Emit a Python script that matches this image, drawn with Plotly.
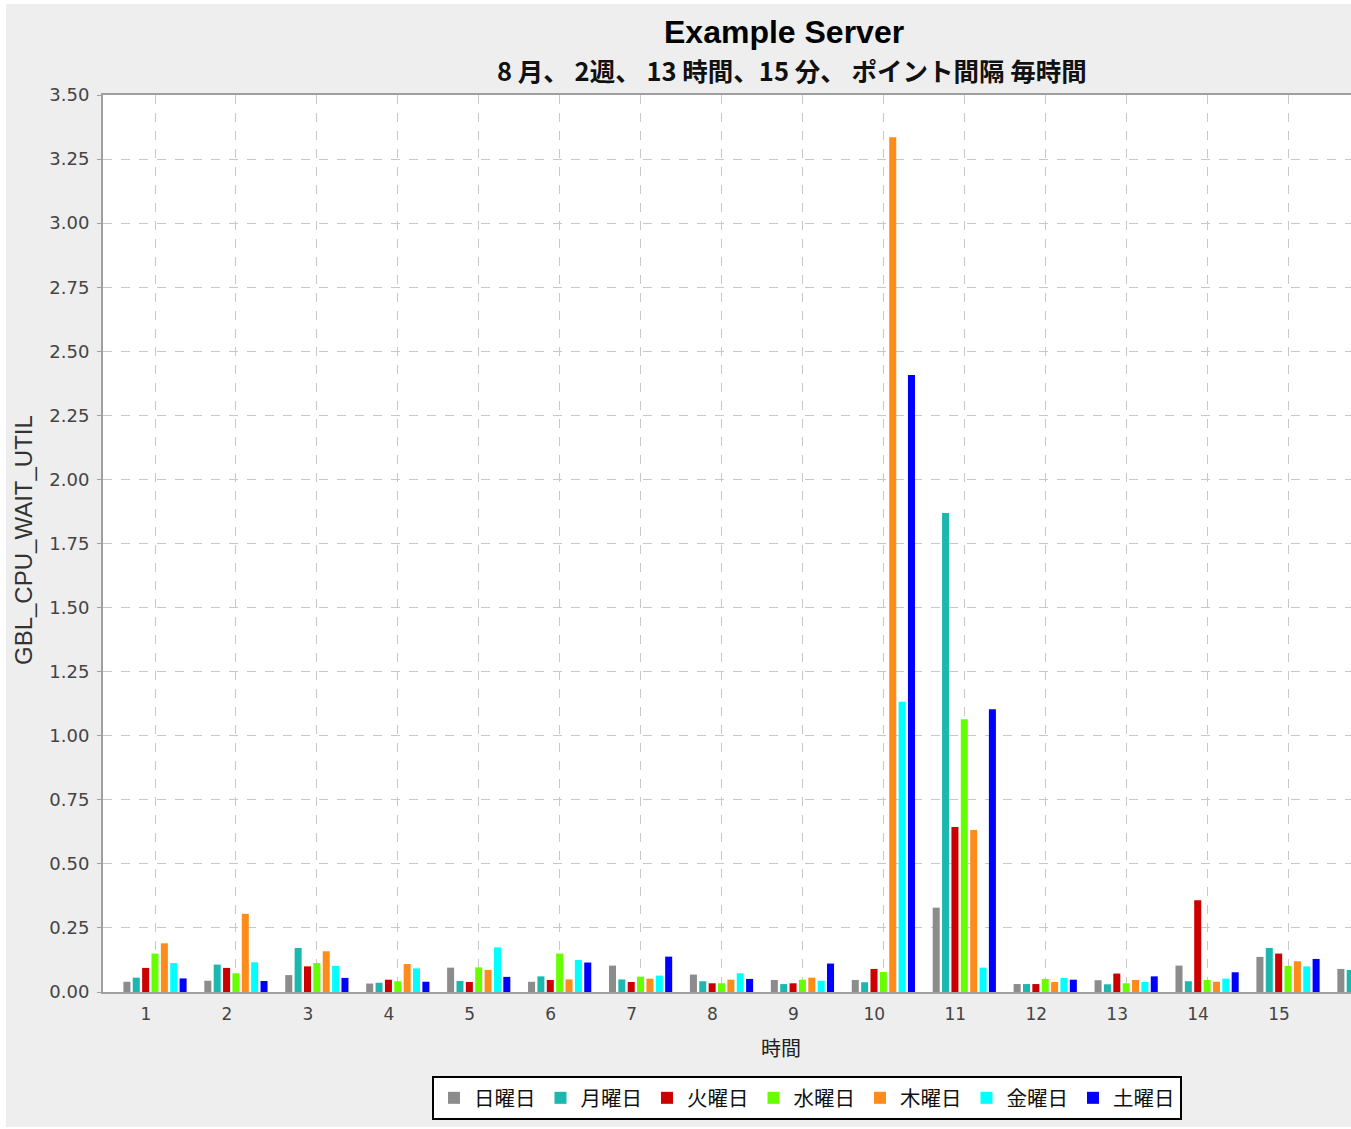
import plotly.graph_objects as go

hours = list(range(1, 17))
tick_labels = [str(h) for h in range(1, 16)]

series_names = ["日曜日", "月曜日", "火曜日", "水曜日", "木曜日", "金曜日", "土曜日"]
series_colors = ["#8C8C8C", "#1CB8B0", "#CC0000", "#66FF00", "#FF8C1A", "#00FFFF", "#0000FF"]

sun = [0.040, 0.044, 0.066, 0.033, 0.095, 0.040, 0.103, 0.068, 0.047, 0.047, 0.329, 0.031, 0.046, 0.103, 0.137, 0.090]
mon = [0.056, 0.107, 0.172, 0.036, 0.043, 0.061, 0.049, 0.042, 0.031, 0.038, 1.869, 0.031, 0.030, 0.042, 0.172, 0.086]
tue = [0.094, 0.094, 0.100, 0.048, 0.039, 0.047, 0.039, 0.034, 0.034, 0.090, 0.644, 0.031, 0.072, 0.358, 0.150, None]
wed = [0.150, 0.073, 0.113, 0.042, 0.096, 0.150, 0.060, 0.034, 0.048, 0.078, 1.064, 0.051, 0.034, 0.047, 0.102, None]
thu = [0.190, 0.305, 0.159, 0.109, 0.086, 0.049, 0.052, 0.048, 0.056, 3.335, 0.632, 0.039, 0.047, 0.040, 0.120, None]
fri = [0.113, 0.116, 0.102, 0.092, 0.174, 0.125, 0.064, 0.073, 0.044, 1.133, 0.095, 0.055, 0.039, 0.052, 0.100, None]
sat = [0.053, 0.043, 0.055, 0.040, 0.059, 0.115, 0.138, 0.051, 0.111, 2.407, 1.103, 0.048, 0.061, 0.077, 0.129, None]

all_series = [sun, mon, tue, wed, thu, fri, sat]

W, H = 1351, 1129
L, R, T, B = 103, 1351, 95, 992  # plot area in pixels

fig = go.Figure()
for name, color, vals in zip(series_names, series_colors, all_series):
    fig.add_trace(go.Bar(x=hours, y=vals, name=name, marker=dict(color=color, line=dict(width=0))))

CJK = "Noto Sans CJK JP"
NUM = "DejaVu Sans"

def px_x(p):
    return (p - L) / (R - L)

def px_y(p):
    return (B - p) / (B - T)

spacing = 80.93
x0 = 1 - (155 - L) / spacing
x1 = 1 + (R - 155) / spacing

fig.update_layout(
    width=W, height=H,
    margin=dict(l=L, r=W - R, t=T, b=H - B, pad=0),
    paper_bgcolor="#EEEEEE",
    plot_bgcolor="#FFFFFF",
    barmode="group",
    bargap=0.19,
    bargroupgap=0.25,
    showlegend=True,
    legend=dict(
        orientation="h",
        xref="container", yref="container",
        x=807 / W, xanchor="center",
        y=1 - 1076 / H, yanchor="top",
        bgcolor="#FFFFFF", bordercolor="#000000", borderwidth=2,
        font=dict(family=CJK, size=20.5, color="#111111"),
        itemwidth=30, traceorder="normal",
        itemclick=False,
    ),
    xaxis=dict(
        range=[x0, x1],
        tickmode="array", tickvals=list(range(1, 16)), ticktext=tick_labels,
        showgrid=True, gridcolor="#C8C8C8", griddash="dash", gridwidth=1,
        showline=True, linecolor="#A0A0A0", linewidth=2, mirror=True,
        ticks="", zeroline=False,
        tickfont=dict(family=NUM, size=17, color="#444444"),
        ticklabelshift=-9, ticklabelstandoff=6,
    ),
    yaxis=dict(
        range=[0, 3.5], dtick=0.25, tick0=0, tickformat=".2f",
        showgrid=True, gridcolor="#C8C8C8", griddash="dash", gridwidth=1,
        showline=True, linecolor="#A0A0A0", linewidth=2,
        ticks="outside", ticklen=4, tickcolor="#A0A0A0",
        zeroline=False,
        tickfont=dict(family=NUM, size=18, color="#444444"),
        ticklabelstandoff=4,
    ),
    annotations=[
        dict(text="<b>Example Server</b>", x=px_x(784), y=px_y(32), xref="paper", yref="paper",
             showarrow=False, xanchor="center", yanchor="middle",
             font=dict(family="Liberation Sans", size=32, color="#000000")),
        dict(text="<b>8 月、 2週、 13 時間、15 分、 ポイント間隔 毎時間</b>", x=px_x(792), y=px_y(70),
             xref="paper", yref="paper", showarrow=False, xanchor="center", yanchor="middle",
             font=dict(family=CJK, size=25.5, color="#111111")),
        dict(text="GBL_CPU_WAIT_UTIL", x=px_x(23), y=px_y(540), xref="paper", yref="paper",
             showarrow=False, xanchor="center", yanchor="middle", textangle=-90,
             font=dict(family="Liberation Sans", size=24, color="#333333")),
        dict(text="時間", x=px_x(781), y=px_y(1047), xref="paper", yref="paper",
             showarrow=False, xanchor="center", yanchor="middle",
             font=dict(family=CJK, size=20, color="#222222")),
    ],
    shapes=[
        dict(type="rect", xref="paper", yref="paper", x0=px_x(0), x1=px_x(6), y0=px_y(H), y1=px_y(0),
             fillcolor="#FFFFFF", line=dict(width=0), layer="above"),
        dict(type="rect", xref="paper", yref="paper", x0=px_x(0), x1=px_x(W), y0=px_y(4), y1=px_y(0),
             fillcolor="#FFFFFF", line=dict(width=0), layer="above"),
        dict(type="rect", xref="paper", yref="paper", x0=px_x(0), x1=px_x(W), y0=px_y(H), y1=px_y(1127),
             fillcolor="#FFFFFF", line=dict(width=0), layer="above"),
    ],
)

fig.write_html(
    "out.html",
    config={"displayModeBar": False},
    post_script="document.body.style.margin='0';document.body.style.overflow='hidden';",
)
